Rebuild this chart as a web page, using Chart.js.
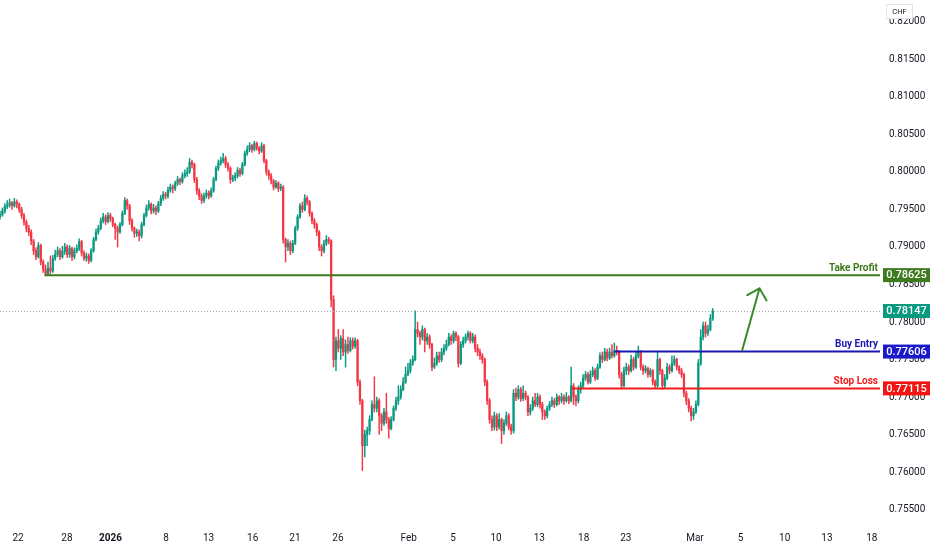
<!DOCTYPE html>
<html>
<head>
<meta charset="utf-8">
<title>CHF 4h</title>
<script src="https://cdn.jsdelivr.net/npm/chart.js@4.4.1/dist/chart.umd.min.js"></script>
<style>
  html, body { margin: 0; padding: 0; background: #ffffff; }
  #wrap { width: 932px; height: 550px; }
</style>
</head>
<body>
<div id="wrap"><canvas id="chart" width="932" height="550"></canvas></div>
<script>
// 4h candles, prices in 1/100000 CHF (open of each bar = previous close)
const firstOpen = 79400;
const closes = [
  79430,79480,79540,79560,79590,79550,79600,79570,79500,79420,
  79330,79250,79200,79080,78950,78870,79020,78800,78700,78640,
  78720,78680,78850,78900,78950,78870,78940,79000,78900,78980,
  78870,78950,78980,79070,78920,78850,78880,78820,78950,79100,
  79200,79250,79350,79400,79340,79420,79380,79300,79250,79200,
  79300,79450,79620,79550,79350,79250,79180,79200,79150,79300,
  79420,79520,79570,79480,79520,79480,79580,79650,79700,79680,
  79760,79800,79780,79850,79900,79870,79950,79980,80000,80130,
  80100,79900,79750,79680,79620,79680,79720,79680,79750,79900,
  80050,80120,80150,80180,80100,80050,79900,79920,79950,80020,
  79980,80100,80250,80300,80350,80300,80380,80320,80280,80350,
  80150,80000,79950,79880,79800,79850,79780,79800,79100,79000,
  79050,78950,79050,79250,79400,79550,79500,79650,79600,79450,
  79350,79300,79200,79000,78950,79050,79100,79080,78300,77500,
  77750,77650,77780,77600,77700,77620,77750,77680,77750,77200,
  76950,76350,76500,76550,76700,76900,76850,76950,76750,76650,
  76800,76700,76580,76700,76850,76950,77000,77100,77200,77300,
  77350,77450,77500,77900,77850,77800,77900,77750,77800,77700,
  77400,77450,77550,77500,77600,77650,77700,77800,77750,77850,
  77800,77450,77700,77750,77800,77850,77750,77800,77650,77600,
  77550,77500,77200,76950,76700,76600,76750,76600,76700,76550,
  76650,76750,76600,76550,77050,77000,77100,76980,77050,77000,
  76800,76850,76950,76900,77000,76900,76800,76750,76850,76900,
  76950,76900,77000,76950,77000,76950,77000,76950,77150,77000,
  76950,77100,77150,77250,77300,77200,77300,77350,77250,77400,
  77550,77500,77600,77520,77600,77550,77620,77600,77300,77150,
  77350,77400,77350,77500,77400,77550,77600,77400,77350,77380,
  77300,77350,77200,77150,77500,77350,77150,77250,77400,77350,
  77450,77500,77400,77350,77300,77050,76950,76850,76750,76800,
  76900,77450,77800,77950,77850,77900,78050,78147
];
const highs = [
  79480,79520,79580,79620,79640,79610,79650,79630,79590,79530,
  79450,79360,79290,79230,79100,78990,79060,79040,78830,78760,
  78800,78880,78890,78960,79000,78980,79010,79050,79030,79020,
  79000,78990,79030,79110,79090,78950,78920,78910,78980,79130,
  79240,79290,79390,79450,79430,79460,79450,79400,79320,79280,
  79330,79480,79660,79640,79570,79380,79270,79240,79230,79330,
  79450,79560,79620,79590,79570,79550,79610,79690,79740,79730,
  79800,79840,79830,79880,79940,79920,79990,80030,80060,80180,
  80160,80120,79930,79780,79710,79720,79760,79750,79790,79930,
  80080,80160,80200,80250,80210,80130,80070,79960,79990,80060,
  80050,80130,80280,80350,80390,80370,80410,80400,80340,80390,
  80370,80170,80030,79980,79900,79890,79870,79840,79820,79120,
  79100,79080,79090,79280,79430,79580,79600,79700,79680,79620,
  79470,79380,79320,79220,79030,79090,79150,79130,79100,78350,
  77800,77900,77820,77900,77760,77800,77790,77790,77790,77770,
  77230,76970,76560,76600,76750,76950,77270,77000,76980,76780,
  76850,77050,76730,76740,76880,77000,77150,77150,77260,77400,
  77450,77500,77550,78150,78000,77880,77950,77920,77850,77830,
  77720,77520,77600,77600,77650,77700,77760,77850,77830,77880,
  77870,77820,77740,77800,77840,77880,77870,77850,77830,77700,
  77640,77580,77520,77230,76980,76750,76800,76780,76780,76720,
  76700,76800,76780,76640,77100,77120,77150,77130,77150,77080,
  77020,76900,77000,77050,77050,77030,76930,76830,76880,76940,
  77000,76980,77040,77020,77050,77030,77060,77020,77400,77180,
  77030,77150,77200,77300,77340,77330,77350,77400,77380,77440,
  77590,77600,77650,77640,77650,77700,77720,77680,77620,77330,
  77400,77450,77430,77560,77530,77600,77680,77620,77430,77420,
  77400,77380,77370,77230,77600,77520,77370,77300,77450,77430,
  77550,77550,77520,77420,77380,77320,77080,76980,76880,76850,
  76950,77500,77900,78000,78000,77960,78100,78180
];
const lows = [
  79370,79410,79450,79510,79530,79500,79530,79520,79460,79380,
  79290,79200,79150,79030,78900,78830,78850,78760,78660,78620,
  78630,78640,78660,78820,78870,78830,78850,78900,78860,78860,
  78820,78840,78920,78950,78880,78820,78810,78780,78800,78930,
  79080,79170,79230,79320,79300,79320,79340,79270,79100,79000,
  79180,79280,79430,79500,79300,79210,79130,79140,79080,79120,
  79280,79400,79490,79440,79450,79430,79460,79550,79620,79640,
  79650,79730,79720,79750,79820,79830,79850,79920,79940,79980,
  80050,79860,79700,79630,79580,79590,79650,79640,79660,79730,
  79880,80020,80090,80120,80060,80010,79850,79870,79880,79920,
  79940,79960,80080,80220,80270,80260,80280,80290,80240,80260,
  80120,79960,79900,79840,79760,79780,79740,79750,79050,78800,
  78950,78900,78920,79030,79220,79380,79460,79480,79560,79410,
  79310,79250,79150,78950,78880,78920,79020,79040,78200,77400,
  77350,77600,77500,77550,77400,77580,77600,77640,77650,77150,
  76900,76020,76200,76350,76500,76680,76800,76800,76500,76550,
  76620,76650,76450,76560,76680,76820,76900,76970,77080,77180,
  77280,77320,77420,77480,77800,77700,77760,77600,77700,77650,
  77350,77380,77420,77460,77470,77560,77620,77680,77700,77720,
  77750,77400,77430,77660,77720,77760,77720,77720,77600,77550,
  77500,77450,77150,76900,76650,76550,76560,76550,76570,76380,
  76500,76620,76560,76500,76520,76950,76970,76940,76950,76960,
  76750,76760,76820,76870,76870,76850,76700,76700,76720,76820,
  76870,76860,76880,76900,76920,76900,76930,76910,76930,76900,
  76880,76920,77050,77120,77220,77170,77180,77270,77220,77230,
  77380,77460,77480,77480,77500,77520,77530,77560,77250,77110,
  77130,77300,77300,77330,77360,77380,77520,77360,77300,77320,
  77260,77270,77160,77110,77130,77300,77100,77120,77230,77310,
  77330,77420,77360,77310,77260,77000,76900,76800,76680,76700,
  76780,76880,77420,77760,77800,77820,77880,78020
];
const lastPrice = 0.78147;

// time axis: bar index of each label
const xTickIndex = [7.5, 27.9, 46, 69.2, 86.9, 105.3, 122.9, 140.8, 170.3, 188.75, 206.7, 224.75, 243.2, 260.8, 289.6, 308.6, 327, 344.6, 363.3];
const xTickLabels = ['22', '28', '2026', '8', '13', '16', '21', '26', 'Feb', '5', '10', '13', '18', '23', 'Mar', '5', '10', '13', '18'];
const yTicks = [0.755, 0.760, 0.765, 0.770, 0.775, 0.780, 0.785, 0.790, 0.795, 0.800, 0.805, 0.810, 0.815, 0.820];

// trade levels
const levelNames = ['Take Profit', 'Buy Entry', 'Stop Loss'];
const levelPrices = [0.78625, 0.77606, 0.77115];
const levelStart = [18.5, 256, 238.3];
const arrowFrom = [309.3, 0.77627];
const arrowTo = [316.5, 0.78449];

const GREEN = '#089981';
const RED = '#f23645';
const levelColors = ['#3e7b1f', '#1616b4', '#f21c1c'];
const boxColors = ['#3e7b1f', '#1a1acb', '#f31414'];
const FONT = 'Roboto, "Liberation Sans", sans-serif';

const toPrice = v => v / 100000;
const opens = closes.map((c, i) => i === 0 ? firstOpen : closes[i - 1]);
const bodyData = closes.map((c, i) => ({ x: i, y: [toPrice(opens[i]), toPrice(c)] }));
const wickData = closes.map((c, i) => ({ x: i, y: [toPrice(lows[i]), toPrice(highs[i])] }));
const candleColor = ctx => closes[ctx.dataIndex] >= opens[ctx.dataIndex] ? GREEN : RED;

const overlay = {
  id: 'overlay',
  afterDatasetsDraw(chart) {
    const { ctx, chartArea: area, scales: { x, y } } = chart;
    ctx.save();

    // last price dotted line
    const ly = Math.round(y.getPixelForValue(lastPrice)) + 0.5;
    ctx.strokeStyle = '#a3a6af';
    ctx.lineWidth = 1;
    ctx.setLineDash([1, 2]);
    ctx.beginPath();
    ctx.moveTo(area.left, ly);
    ctx.lineTo(area.right, ly);
    ctx.stroke();
    ctx.setLineDash([]);

    // level lines + names
    levelPrices.forEach((p, k) => {
      const py = y.getPixelForValue(p);
      ctx.strokeStyle = levelColors[k];
      ctx.lineWidth = 2;
      ctx.beginPath();
      ctx.moveTo(x.getPixelForValue(levelStart[k]), py);
      ctx.lineTo(area.right, py);
      ctx.stroke();
      ctx.fillStyle = levelColors[k];
      ctx.font = 'bold 10px ' + FONT;
      ctx.textAlign = 'right';
      ctx.textBaseline = 'alphabetic';
      ctx.fillText(levelNames[k], area.right - 2, py - 4.5);
    });

    // arrow
    const x0 = x.getPixelForValue(arrowFrom[0]), y0 = y.getPixelForValue(arrowFrom[1]);
    const x1 = x.getPixelForValue(arrowTo[0]), y1 = y.getPixelForValue(arrowTo[1]);
    const ang = Math.atan2(y0 - y1, x0 - x1);
    const head = 14, spread = 0.8;
    ctx.strokeStyle = '#38892a';
    ctx.lineWidth = 2;
    ctx.lineCap = 'round';
    ctx.beginPath();
    ctx.moveTo(x0, y0);
    ctx.lineTo(x1, y1);
    ctx.moveTo(x1 + head * Math.cos(ang + spread), y1 + head * Math.sin(ang + spread));
    ctx.lineTo(x1, y1);
    ctx.lineTo(x1 + head * Math.cos(ang - spread), y1 + head * Math.sin(ang - spread));
    ctx.stroke();

    // price boxes on the axis
    const boxes = levelPrices.map((p, k) => [p, boxColors[k]]).concat([[lastPrice, GREEN]]);
    boxes.forEach(([p, col]) => {
      const py = y.getPixelForValue(p);
      ctx.fillStyle = col;
      ctx.fillRect(area.right + 3, py - 7, 47, 14);
      ctx.fillStyle = '#ffffff';
      ctx.font = '500 11px ' + FONT;
      ctx.textAlign = 'center';
      ctx.textBaseline = 'middle';
      ctx.fillText(p.toFixed(5), area.right + 26.5, py + 0.5);
    });

    // currency tag
    ctx.fillStyle = '#ffffff';
    ctx.strokeStyle = '#e0e3eb';
    ctx.lineWidth = 1;
    ctx.fillRect(area.right + 6.5, 4.5, 26, 14);
    ctx.strokeRect(area.right + 6.5, 4.5, 26, 14);
    ctx.fillStyle = '#131722';
    ctx.font = '7.5px ' + FONT;
    ctx.textAlign = 'center';
    ctx.textBaseline = 'middle';
    ctx.fillText('CHF', area.right + 19.5, 12);

    ctx.restore();
  }
};

new Chart(document.getElementById('chart'), {
  type: 'bar',
  data: {
    datasets: [
      {
        label: 'body',
        data: bodyData,
        backgroundColor: candleColor,
        barThickness: 1.6,
        minBarLength: 1,
        grouped: false,
        order: 0
      },
      {
        label: 'wick',
        data: wickData,
        backgroundColor: candleColor,
        barThickness: 0.8,
        grouped: false,
        order: 1
      }
    ]
  },
  options: {
    responsive: false,
    animation: false,
    layout: { padding: 0 },
    plugins: { legend: { display: false }, tooltip: { enabled: false } },
    scales: {
      x: {
        type: 'linear',
        min: 0,
        max: 366.7,
        offset: false,
        grid: { display: false, drawTicks: false, offset: false },
        border: { display: false },
        afterBuildTicks: s => { s.ticks = xTickIndex.map(v => ({ value: v })); },
        afterFit: s => { s.height = 23; s.paddingLeft = 0; s.paddingRight = 0; },
        ticks: {
          autoSkip: false,
          maxRotation: 0,
          padding: 5,
          color: '#131722',
          font: c => ({ family: FONT, size: 10, weight: c.index === 2 ? 'bold' : 'normal' }),
          callback: (v, i) => xTickLabels[i]
        }
      },
      y: {
        position: 'right',
        min: 0.75267,
        max: 0.82293,
        grid: { display: false, drawTicks: false },
        border: { display: false },
        afterBuildTicks: s => { s.ticks = yTicks.map(v => ({ value: v })); },
        afterFit: s => { s.width = 52; s.paddingTop = 0; s.paddingBottom = 0; },
        ticks: {
          padding: 9,
          color: '#131722',
          font: { family: FONT, size: 10 },
          callback: v => v.toFixed(5)
        }
      }
    }
  },
  plugins: [overlay]
});
</script>
</body>
</html>
